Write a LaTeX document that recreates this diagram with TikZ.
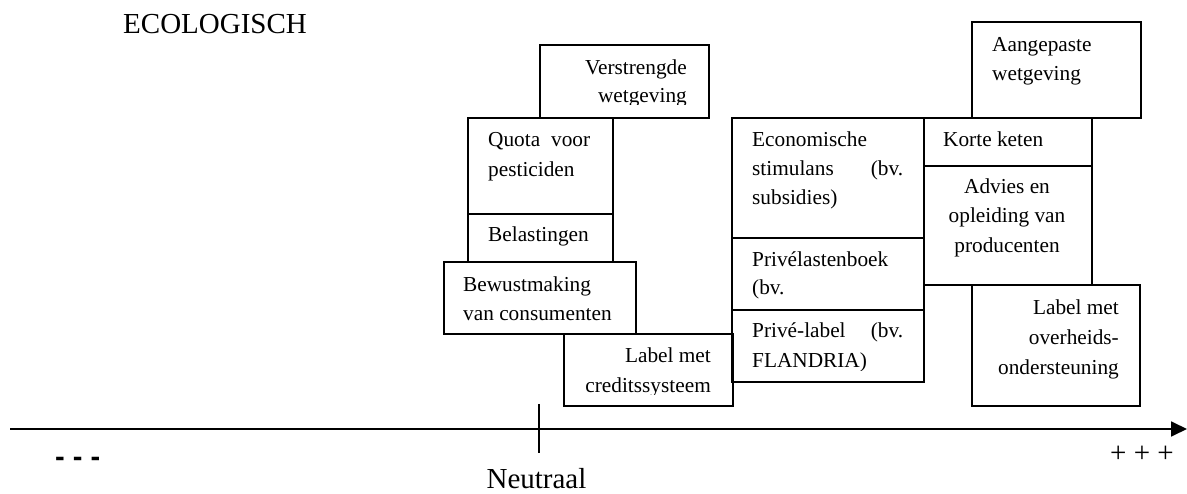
\documentclass[tikz,border=0pt]{standalone}
\usepackage{fontspec}
\setmainfont{Liberation Serif}
\newfontfamily\dashfont{Liberation Sans}
\usetikzlibrary{arrows.meta}
\begin{document}
\begin{tikzpicture}[x=1pt,y=-1pt,
  box/.style={draw, line width=1.8pt, rectangle, inner sep=0pt, anchor=north west},
  txt/.style={inner sep=0pt, font=\fontsize{21.3}{29}\selectfont},
  big/.style={inner sep=0pt, font=\fontsize{29}{34}\selectfont},
  axis/.style={line width=1.8pt},
  tick/.style={line width=1.6pt}]
\useasboundingbox (0,0) rectangle (1187,494);

% title
\node[big, anchor=base west] (title) at (123,34) {ECOLOGISCH};

% frames of the measures
\node[box, minimum width=169pt, minimum height=73pt]  (verstr)  at (539,44)  {};
\node[box, minimum width=145pt, minimum height=96pt]  (quota)   at (467,117) {};
\node[box, minimum width=145pt, minimum height=48pt]  (belast)  at (467,213) {};
\node[box, minimum width=192pt, minimum height=72pt]  (bewust)  at (443,261) {};
\node[box, minimum width=169pt, minimum height=72pt]  (credit)  at (563,333) {};
\node[box, minimum width=192pt, minimum height=120pt] (econ)    at (731,117) {};
\node[box, minimum width=192pt, minimum height=72pt]  (privlast) at (731,237) {};
\node[box, minimum width=192pt, minimum height=72pt]  (privlab) at (731,309) {};
\node[box, minimum width=169pt, minimum height=96pt]  (aangep)  at (971,21)  {};
\node[box, minimum width=168pt, minimum height=48pt]  (korte)   at (923,117) {};
\node[box, minimum width=168pt, minimum height=119pt] (advies)  at (923,165) {};
\node[box, minimum width=168pt, minimum height=121pt] (overh)   at (971,284) {};

% texts inside the frames (some are cut off by their frame's inner margin)
\begin{scope}
  \clip (540,45) rectangle (707,105);
  \node[txt, anchor=base east] (t-verstr1) at (687,75)  {Verstrengde};
  \node[txt, anchor=base east] (t-verstr2) at (687,103) {wetgeving};
\end{scope}
\node[txt, anchor=base west] (t-quota1) at (488,147) {\hbox to 102pt{Quota\hfill voor}};
\node[txt, anchor=base west] (t-quota2) at (488,177) {pesticiden};
\node[txt, anchor=base west] (t-belast) at (488,242) {Belastingen};
\node[txt, anchor=base west] (t-bewust1) at (463,292) {Bewustmaking};
\node[txt, anchor=base west] (t-bewust2) at (463,321) {van consumenten};
\begin{scope}
  \clip (564,334) rectangle (731,395);
  \node[txt, anchor=base east] (t-credit1) at (711,363) {Label met};
  \node[txt, anchor=base east] (t-credit2) at (711,393) {creditssysteem};
\end{scope}
\node[txt, anchor=base west] (t-econ1) at (752,147) {Economische};
\node[txt, anchor=base west] (t-econ2) at (752,176) {\hbox to 151pt{stimulans\hfill (bv.}};
\node[txt, anchor=base west] (t-econ3) at (752,205) {subsidies)};
\node[txt, anchor=base west] (t-privlast1) at (752,267) {Privélastenboek};
\node[txt, anchor=base west] (t-privlast2) at (752,295) {(bv.};
\begin{scope}
  \clip (732,310) rectangle (922,371);
  \node[txt, anchor=base west] (t-privlab1) at (752,338) {\hbox to 151pt{Privé-label\hfill (bv.}};
  \node[txt, anchor=base west] (t-privlab2) at (752,368) {FLANDRIA)};
\end{scope}
\node[txt, anchor=base west] (t-aangep1) at (992,52) {Aangepaste};
\node[txt, anchor=base west] (t-aangep2) at (992,81) {wetgeving};
\node[txt, anchor=base west] (t-korte) at (943,147) {Korte keten};
\node[txt, anchor=base] (t-advies1) at (1007,194) {Advies en};
\node[txt, anchor=base] (t-advies2) at (1007,223) {opleiding van};
\node[txt, anchor=base] (t-advies3) at (1007,253) {producenten};
\node[txt, anchor=base east] (t-overh1) at (1119,315) {Label met};
\node[txt, anchor=base east] (t-overh2) at (1119,345) {overheids-};
\node[txt, anchor=base east] (t-overh3) at (1119,375) {ondersteuning};

% the scale
\coordinate (axL) at (10,429);
\coordinate (axR) at (1187,429);
\draw[axis, -{Triangle[length=16pt,width=15pt]}] (axL) -- (axR);
\coordinate (tickT) at (539,404);
\coordinate (tickB) at (539,453);
\draw[tick] (tickT) -- (tickB);

\node[big, anchor=base] (neutraal) at (536.5,489) {Neutraal};
\node[big, anchor=base west] (minus) at (55,467) {\dashfont\bfseries - - -};
\node[big, anchor=base west] (plus) at (1110,463) {+ + +};
\end{tikzpicture}
\end{document}
